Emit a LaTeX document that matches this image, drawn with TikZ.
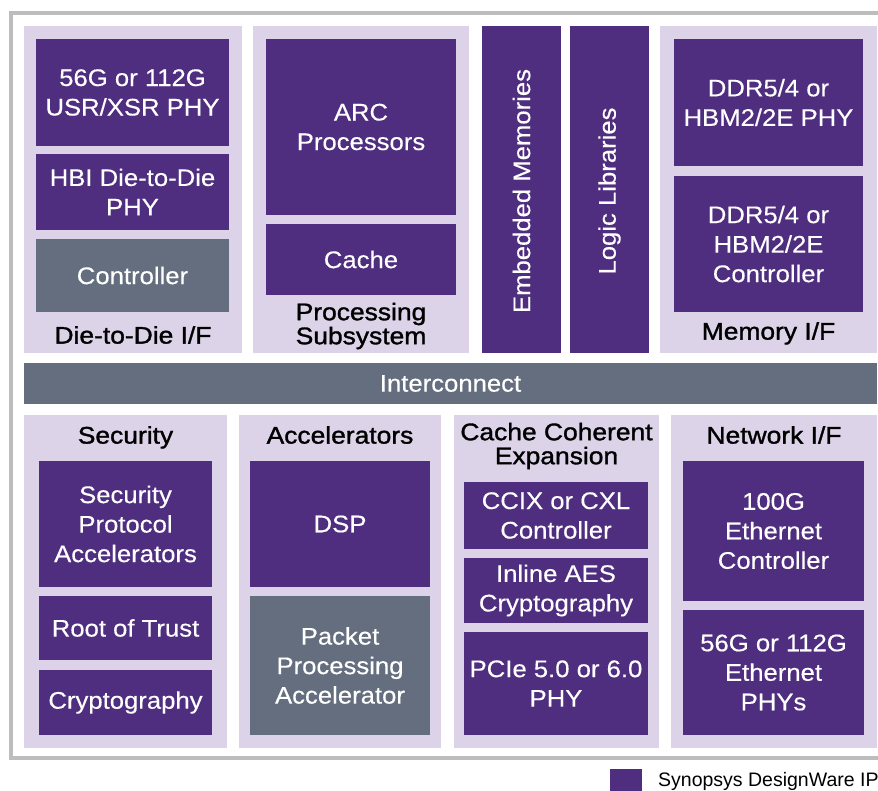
\documentclass[tikz,border=0pt]{standalone}
\usepackage{fontspec}
\setmainfont{Liberation Sans}
\newfontfamily\medfont[FakeStretch=1.07,FakeBold=0.3]{Liberation Sans}
\newfontfamily\lblfont[FakeStretch=1.1,FakeBold=1.3]{Liberation Sans}
\definecolor{dp}{HTML}{4F2D7F}
\definecolor{lav}{HTML}{DCD3E8}
\definecolor{gb}{HTML}{646E7E}
\definecolor{fr}{HTML}{BDBDBD}
\newcommand\blk[7]{\node[#6,minimum width=#4pt-#2pt,minimum height=#5pt-#3pt] (#1) at ({(#2+#4)/2},{(#3+#5)/2}) {#7};}
\begin{document}
\begin{tikzpicture}[x=1pt,y=-1pt,
  panel/.style={fill=lav,inner sep=0pt,draw=none},
  ip/.style={fill=dp,text=white,inner sep=0pt,align=center,font=\medfont\fontsize{24}{29.5}\selectfont},
  gry/.style={fill=gb,text=white,inner sep=0pt,align=center,font=\medfont\fontsize{24}{29.5}\selectfont},
  lbl/.style={text=black,inner sep=0pt,align=center,font=\lblfont\fontsize{24}{24}\selectfont},
  one/.style={lbl,text height=17.2pt,text depth=0pt},
  vtxt/.style={text=white,rotate=90,inner sep=0pt,font=\medfont\fontsize{24}{29}\selectfont},
  frame/.style={draw=fr,line width=4pt,line join=miter}]
\useasboundingbox (0,0) rectangle (878,791);
\draw[frame] (878,13.5) -- (11,13.5) -- (11,757.5) -- (878,757.5);
% top row
\blk{d2d}{24}{26}{242}{353}{panel}{}
\blk{d2da}{36}{39}{229}{146}{ip}{56G or 112G\\USR/XSR PHY}
\blk{d2db}{36}{154}{229}{230}{ip}{HBI Die-to-Die\\PHY}
\blk{d2dc}{36}{239}{229}{312}{gry}{Controller}
\node[one] (d2dl) at (133,335) {Die-to-Die I/F};
\blk{proc}{253}{26}{469}{353}{panel}{}
\blk{arc}{266}{39}{456}{215}{ip}{ARC\\Processors}
\blk{cache}{266}{224}{456}{295}{ip}{Cache}
\node[lbl] (procl) at (361,326) {Processing\\Subsystem};
\blk{emb}{482}{26}{561}{353}{ip}{}
\node[vtxt] (embt) at (521.5,191) {Embedded Memories};
\blk{logic}{570}{26}{649}{353}{ip}{}
\node[vtxt] (logict) at (609.5,191) {Logic Libraries};
\blk{mem}{660}{26}{877}{353}{panel}{}
\blk{mema}{674}{39}{863}{166}{ip}{DDR5/4 or\\HBM2/2E PHY}
\blk{memb}{674}{176}{863}{312}{ip}{DDR5/4 or\\HBM2/2E\\Controller}
\node[one] (meml) at (768.5,331) {Memory I/F};
% interconnect
\blk{ic}{24}{363}{877}{404}{gry}{Interconnect}
% bottom row
\blk{sec}{24}{415}{227}{748}{panel}{}
\node[one] (secl) at (125.5,435) {Security};
\blk{seca}{39}{461}{212}{587}{ip}{Security\\Protocol\\Accelerators}
\blk{secb}{39}{596}{212}{660}{ip}{Root of Trust}
\blk{secc}{39}{670}{212}{735}{ip}{Cryptography}
\blk{acc}{239}{415}{441}{748}{panel}{}
\node[one] (accl) at (340,435) {Accelerators};
\blk{dsp}{250}{461}{430}{587}{ip}{DSP}
\blk{pkt}{250}{596}{430}{735}{gry}{Packet\\Processing\\Accelerator}
\blk{cce}{454}{415}{659}{748}{panel}{}
\node[lbl] (ccel) at (556.5,446) {Cache Coherent\\Expansion};
\blk{ccix}{464}{482}{648}{549}{ip}{CCIX or CXL\\Controller}
\blk{aes}{464}{558}{648}{623}{ip}{Inline AES\\Cryptography}
\blk{pcie}{464}{632}{648}{735}{ip}{PCIe 5.0 or 6.0\\PHY}
\blk{net}{671}{415}{877}{748}{panel}{}
\node[one] (netl) at (774,435) {Network I/F};
\blk{neta}{683}{461}{864}{601}{ip}{100G\\Ethernet\\Controller}
\blk{netb}{683}{610}{864}{735}{ip}{56G or 112G\\Ethernet\\PHYs}
% legend
\blk{leg}{610}{769}{642}{791}{ip}{}
\node[anchor=west,inner sep=0pt,font=\fontsize{19.5}{22}\selectfont] (legt) at (658,781) {Synopsys DesignWare IP};
\end{tikzpicture}
\end{document}
